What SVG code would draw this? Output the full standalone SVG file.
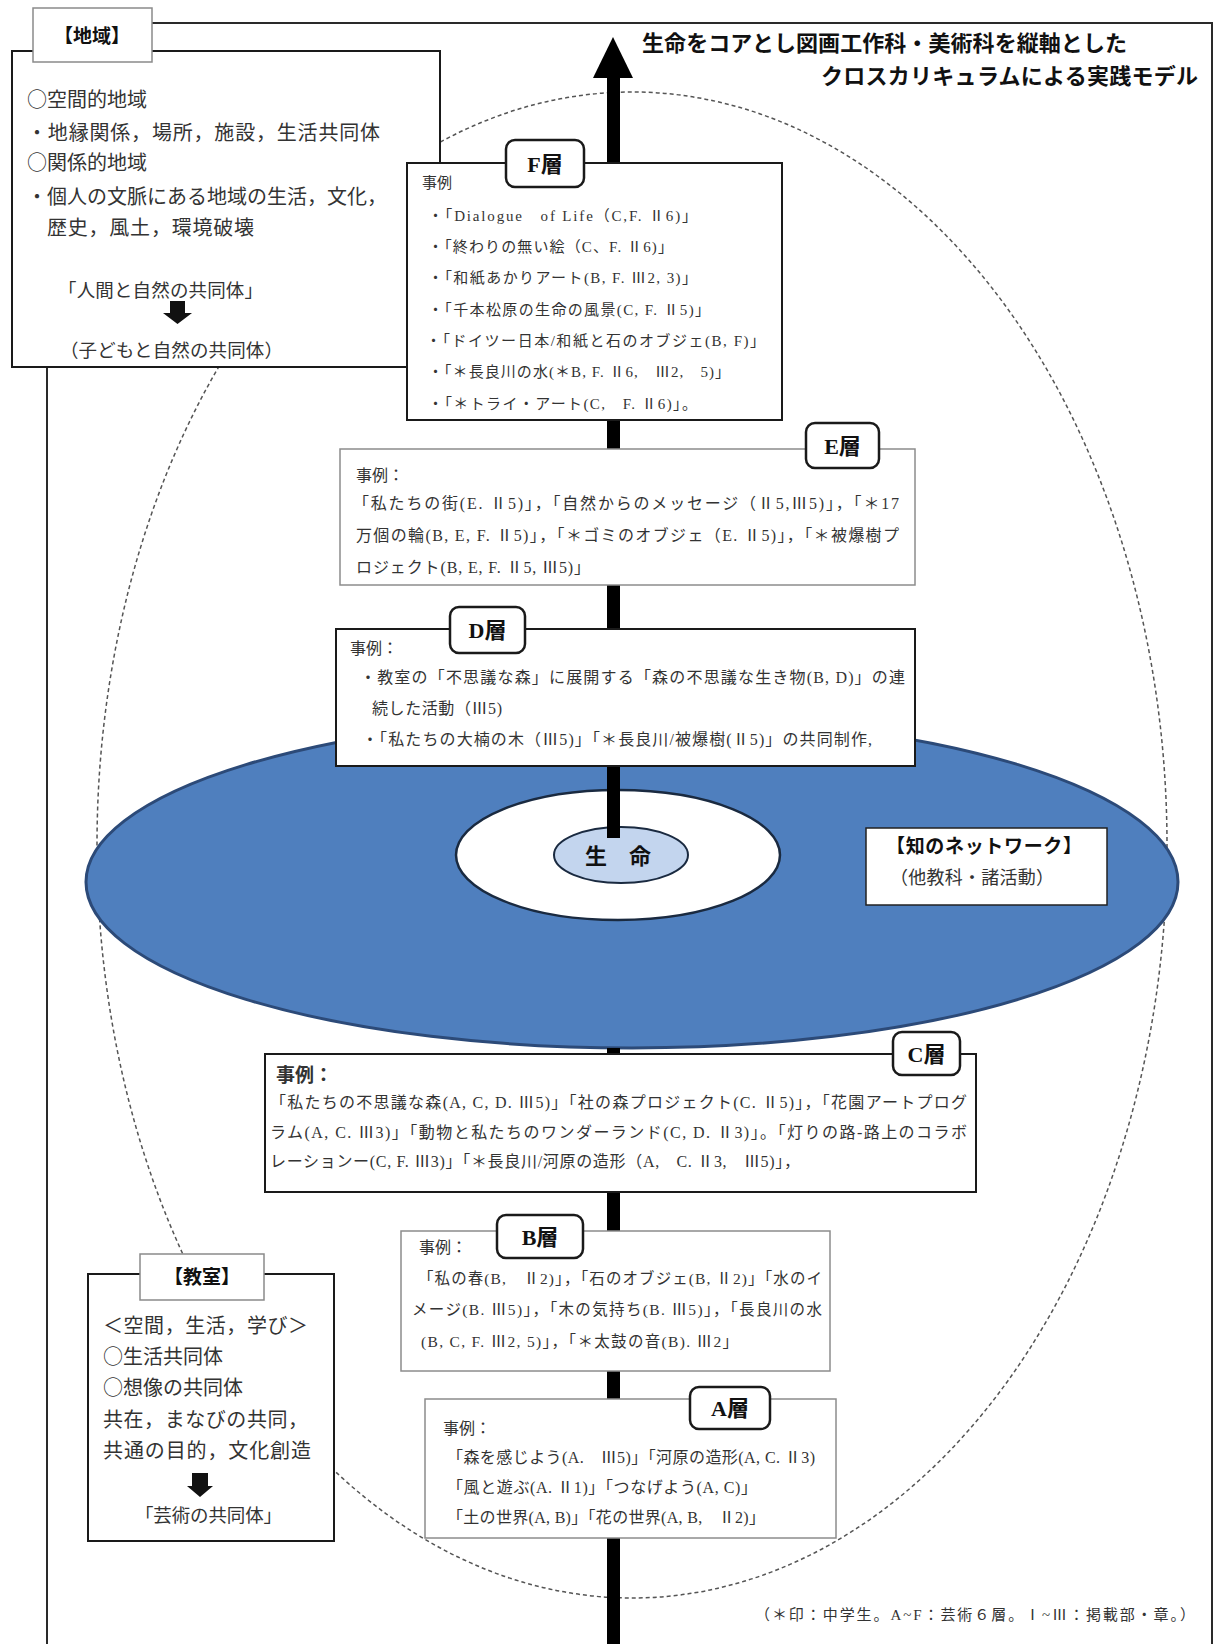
<svg xmlns="http://www.w3.org/2000/svg" width="1216" height="1644" viewBox="0 0 1216 1644">
  <style>
    .t { font-family: "Liberation Serif", "Noto Sans CJK JP", serif; fill: #333; }
    .cj { font-family: "Noto Sans CJK JP", sans-serif; }
    .s15 { font-size: 15px; }
    .s16 { font-size: 16px; }
    .s20 { font-size: 20px; }
    .hd { font-family: "Liberation Serif", "Noto Sans CJK JP", serif; font-weight: bold; fill: #111; }
    .box-k { fill: #fff; stroke: #1a1a1a; stroke-width: 2; }
    .box-g { fill: #fff; stroke: #8c8c8c; stroke-width: 1.5; }
    .tab-r { fill: #fff; stroke: #1a1a1a; stroke-width: 2.5; }
    .tab-g { fill: #fff; stroke: #8a8a8a; stroke-width: 1.5; }
    .axis { fill: #000; }
  </style>

  <rect width="1216" height="1644" fill="#fff"/>

  <!-- outer frame -->
  <rect x="47" y="23" width="1165" height="1700" fill="none" stroke="#2a2a2a" stroke-width="2"/>

  <!-- dotted boundary of the six layers -->
  <ellipse cx="632" cy="845" rx="535" ry="753" fill="none" stroke="#555" stroke-width="1.5" stroke-dasharray="4 3"/>

  <!-- knowledge network disc -->
  <ellipse cx="632" cy="882" rx="546" ry="166" fill="#4f7fbe" stroke="#2c4a78" stroke-width="3"/>

  <!-- core rings -->
  <g id="node-core">
    <ellipse cx="618" cy="855" rx="162" ry="65" fill="#fff" stroke="#1a2a40" stroke-width="2.5"/>
    <ellipse cx="621" cy="855" rx="67" ry="28" fill="#c3d5ee" stroke="#1a2a40" stroke-width="2"/>
    <text class="hd" x="618" y="864" font-size="22" text-anchor="middle">生　命</text>
  </g>

  <!-- vertical axis -->
  <g id="connectors">
    <polygon class="axis" points="613,37 633,78 593,78"/>
    <rect class="axis" x="607" y="77" width="13" height="761"/>
    <rect class="axis" x="607" y="1048" width="13" height="600"/>
  </g>

  <!-- region -->
  <g id="node-region">
    <rect class="box-k" x="12" y="51" width="428" height="316"/>
    <rect class="tab-g" x="33" y="8" width="119" height="54"/>
    <text class="hd" x="92" y="43" font-size="19" text-anchor="middle">【地域】</text>
    <text class="t s20" x="27" y="107"><tspan class="cj">○</tspan>空間的地域</text>
    <text class="t s20" x="27" y="140" textLength="353" lengthAdjust="spacing">・地縁関係，場所，施設，生活共同体</text>
    <text class="t s20" x="27" y="170"><tspan class="cj">○</tspan>関係的地域</text>
    <text class="t s20" x="27" y="204" textLength="360" lengthAdjust="spacing">・個人の文脈にある地域の生活，文化，</text>
    <text class="t s20" x="47" y="235" textLength="207" lengthAdjust="spacing">歴史，風土，環境破壊</text>
    <text class="t" x="58" y="297" font-size="18.5" textLength="205" lengthAdjust="spacing">「人間と自然の共同体」</text>
    <polygon fill="#111" points="170,301 185,301 185,313 192,313 177.5,324 163,313 170,313"/>
    <text class="t" x="60" y="357" font-size="18.5" textLength="223" lengthAdjust="spacing">（子どもと自然の共同体）</text>
  </g>

  <!-- layer F -->
  <g id="node-F">
    <rect class="box-k" x="407" y="163" width="375" height="257"/>
    <rect class="tab-r" x="506" y="140" width="78" height="47" rx="9"/>
    <text class="hd" x="545" y="172" font-size="22" text-anchor="middle">F層</text>
    <text class="t s15" x="422" y="188">事例</text>
    <text class="t s15" x="428" y="221" textLength="269" lengthAdjust="spacing">・「Dialogue　of Life（C,F. Ⅱ6)」</text>
    <text class="t s15" x="428" y="252" textLength="245" lengthAdjust="spacing">・「終わりの無い絵（C、F. Ⅱ6)」</text>
    <text class="t s15" x="428" y="283" textLength="269" lengthAdjust="spacing">・「和紙あかりアート(B, F. Ⅲ2, 3)」</text>
    <text class="t s15" x="428" y="315" textLength="282" lengthAdjust="spacing">・「千本松原の生命の風景(C, F. Ⅱ5)」</text>
    <text class="t s15" x="426" y="346" textLength="339" lengthAdjust="spacing">・「ドイツー日本/和紙と石のオブジェ(B, F)」</text>
    <text class="t s15" x="428" y="377" textLength="302" lengthAdjust="spacing">・「＊長良川の水(＊B, F. Ⅱ6,　Ⅲ2,　5)」</text>
    <text class="t s15" x="428" y="409" textLength="269" lengthAdjust="spacing">・「＊トライ・アート(C,　F. Ⅱ6)」。</text>
  </g>

  <!-- layer E -->
  <g id="node-E">
    <rect class="box-g" x="340" y="449" width="575" height="136"/>
    <rect class="tab-r" x="806" y="423" width="73" height="45" rx="9"/>
    <text class="hd" x="842.5" y="454" font-size="22" text-anchor="middle">E層</text>
    <text class="t s16" x="356" y="481">事例：</text>
    <text class="t s16" x="353" y="509" textLength="546" lengthAdjust="spacing">「私たちの街(E. Ⅱ5)」，「自然からのメッセージ（Ⅱ5,Ⅲ5)」，「＊17</text>
    <text class="t s16" x="356" y="541" textLength="543" lengthAdjust="spacing">万個の輪(B, E, F. Ⅱ5)」，「＊ゴミのオブジェ（E. Ⅱ5)」，「＊被爆樹プ</text>
    <text class="t s16" x="356" y="573" textLength="234" lengthAdjust="spacing">ロジェクト(B, E, F. Ⅱ5, Ⅲ5)」</text>
  </g>

  <!-- layer D -->
  <g id="node-D">
    <rect class="box-k" x="336" y="629" width="579" height="137"/>
    <rect class="tab-r" x="450" y="607" width="75" height="46" rx="9"/>
    <text class="hd" x="487.5" y="638" font-size="22" text-anchor="middle">D層</text>
    <text class="t s16" x="350" y="654">事例：</text>
    <text class="t s16" x="360" y="683" textLength="545" lengthAdjust="spacing">・教室の「不思議な森」に展開する「森の不思議な生き物(B, D)」の連</text>
    <text class="t s16" x="372" y="714" textLength="130" lengthAdjust="spacing">続した活動（Ⅲ5)</text>
    <text class="t s16" x="362" y="745" textLength="510" lengthAdjust="spacing">・「私たちの大楠の木（Ⅲ5)」「＊長良川/被爆樹(Ⅱ5)」の共同制作,</text>
  </g>

  <!-- knowledge network label -->
  <g id="node-network">
    <rect x="866" y="828" width="241" height="77" fill="#fff" stroke="#222" stroke-width="1.5"/>
    <text class="hd" x="886" y="853" font-size="19" textLength="196" lengthAdjust="spacing">【知のネットワーク】</text>
    <text class="t" x="890" y="884" font-size="18" textLength="164" lengthAdjust="spacing">（他教科・諸活動）</text>
  </g>

  <!-- layer C -->
  <g id="node-C">
    <rect class="box-k" x="265" y="1054" width="711" height="138"/>
    <rect class="tab-r" x="893" y="1032" width="67" height="43" rx="9"/>
    <text class="hd" x="926.5" y="1062" font-size="22" text-anchor="middle">C層</text>
    <text class="t" x="276" y="1082" font-size="19" font-weight="bold" fill="#222">事例：</text>
    <text class="t s16" x="270" y="1108" textLength="697" lengthAdjust="spacing">「私たちの不思議な森(A, C, D. Ⅲ5)」「社の森プロジェクト(C. Ⅱ5)」，「花園アートプログ</text>
    <text class="t s16" x="270" y="1138" textLength="697" lengthAdjust="spacing">ラム(A, C. Ⅲ3)」「動物と私たちのワンダーランド(C, D. Ⅱ3)」。「灯りの路-路上のコラボ</text>
    <text class="t s16" x="270" y="1167" textLength="530" lengthAdjust="spacing">レーションー(C, F. Ⅲ3)」「＊長良川/河原の造形（A,　C. Ⅱ3,　Ⅲ5)」，</text>
  </g>

  <!-- layer B -->
  <g id="node-B">
    <rect class="box-g" x="401" y="1231" width="429" height="140"/>
    <rect class="tab-r" x="497" y="1215" width="86" height="43" rx="9"/>
    <text class="hd" x="540" y="1245" font-size="22" text-anchor="middle">B層</text>
    <text class="t s16" x="419" y="1253">事例：</text>
    <text class="t" x="418" y="1284" font-size="15.5" textLength="404" lengthAdjust="spacing">「私の春(B,　Ⅱ2)」，「石のオブジェ(B, Ⅱ2)」「水のイ</text>
    <text class="t" x="412" y="1315" font-size="15.5" textLength="410" lengthAdjust="spacing">メージ(B. Ⅲ5)」，「木の気持ち(B. Ⅲ5)」，「長良川の水</text>
    <text class="t" x="421" y="1347" font-size="15.5" textLength="317" lengthAdjust="spacing">(B, C, F. Ⅲ2, 5)」，「＊太鼓の音(B). Ⅲ2」</text>
  </g>

  <!-- layer A -->
  <g id="node-A">
    <rect class="box-g" x="425" y="1399" width="411" height="139"/>
    <rect class="tab-r" x="690" y="1387" width="80" height="42" rx="9"/>
    <text class="hd" x="730" y="1416" font-size="22" text-anchor="middle">A層</text>
    <text class="t s16" x="443" y="1434">事例：</text>
    <text class="t s16" x="447" y="1463" textLength="368" lengthAdjust="spacing">「森を感じよう(A.　Ⅲ5)」「河原の造形(A, C. Ⅱ3)</text>
    <text class="t s16" x="447" y="1493" textLength="310" lengthAdjust="spacing">「風と遊ぶ(A. Ⅱ1)」「つなげよう(A, C)」</text>
    <text class="t s16" x="447" y="1523" textLength="318" lengthAdjust="spacing">「土の世界(A, B)」「花の世界(A, B,　Ⅱ2)」</text>
  </g>

  <!-- classroom -->
  <g id="node-classroom">
    <rect class="box-k" x="88" y="1274" width="246" height="267"/>
    <rect class="tab-g" x="140" y="1254" width="124" height="46"/>
    <text class="hd" x="202" y="1284" font-size="19" text-anchor="middle">【教室】</text>
    <text class="t s20" x="103" y="1333" textLength="205" lengthAdjust="spacing">＜空間，生活，学び＞</text>
    <text class="t s20" x="103" y="1364"><tspan class="cj">○</tspan>生活共同体</text>
    <text class="t s20" x="103" y="1395"><tspan class="cj">○</tspan>想像の共同体</text>
    <text class="t s20" x="103" y="1427" textLength="205" lengthAdjust="spacing">共在，まなびの共同，</text>
    <text class="t s20" x="103" y="1458" textLength="208" lengthAdjust="spacing">共通の目的，文化創造</text>
    <polygon fill="#111" points="192,1473 208,1473 208,1486 213,1486 200,1497 187,1486 192,1486"/>
    <text class="t" x="135" y="1522" font-size="18.5" textLength="147" lengthAdjust="spacing">「芸術の共同体」</text>
  </g>

  <!-- title -->
  <g id="title">
    <text class="hd" x="642" y="51" font-size="22" textLength="485" lengthAdjust="spacing">生命をコアとし図画工作科・美術科を縦軸とした</text>
    <text class="hd" x="821" y="84" font-size="22" textLength="377" lengthAdjust="spacing">クロスカリキュラムによる実践モデル</text>
  </g>

  <!-- legend -->
  <text class="t s15" x="755" y="1620" textLength="440" lengthAdjust="spacing">（＊印：中学生。A~F：芸術６層。Ⅰ~Ⅲ：掲載部・章。）</text>
</svg>
